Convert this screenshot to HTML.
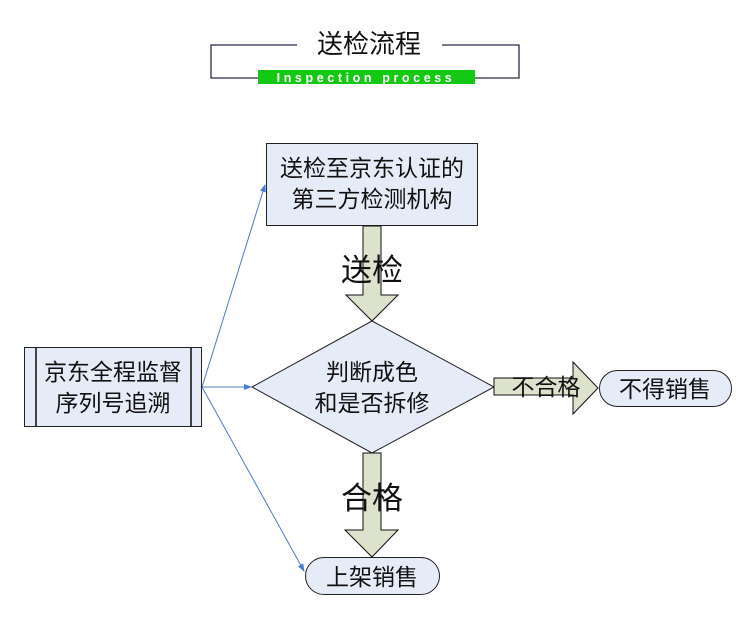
<!DOCTYPE html>
<html><head><meta charset="utf-8"><style>
html,body{margin:0;padding:0;background:#fff;}
svg{display:block;}
text{font-family:"Liberation Sans","Noto Sans CJK SC","WenQuanYi Zen Hei",sans-serif;}
</style></head><body>
<svg width="750" height="623" viewBox="0 0 750 623" xmlns="http://www.w3.org/2000/svg">
<defs>
<marker id="ah" markerWidth="8" markerHeight="8" refX="7" refY="4" orient="auto" markerUnits="userSpaceOnUse">
<path d="M0,1 L8,4 L0,7 z" fill="#4a7bc8"/></marker>
</defs>
<path d="M297,45 H211 V78 H258" fill="none" stroke="#2a2a4a" stroke-width="1.3"/>
<path d="M442,45 H519 V78 H475" fill="none" stroke="#2a2a4a" stroke-width="1.3"/>
<text x="369" y="53" font-size="26" text-anchor="middle" fill="#111">送检流程</text>
<rect x="258" y="70" width="217" height="14" fill="#14c814"/>
<text x="366" y="82" font-size="12.5" font-weight="bold" text-anchor="middle" fill="#fff" letter-spacing="3.6">Inspection process</text>

<g stroke="#4a7bc8" stroke-width="1" fill="none">
<line x1="202" y1="387" x2="265" y2="185" marker-end="url(#ah)"/>
<line x1="202" y1="387" x2="251" y2="387" marker-end="url(#ah)"/>
<line x1="202" y1="387" x2="304" y2="571" marker-end="url(#ah)"/>
</g>

<rect x="266.5" y="143.5" width="211" height="82" fill="#e6ecf7" stroke="#222" stroke-width="1"/>
<text x="372" y="176" font-size="23" text-anchor="middle" fill="#111">送检至京东认证的</text>
<text x="372" y="207" font-size="23" text-anchor="middle" fill="#111">第三方检测机构</text>

<path d="M363,226 H381 V295 H398 L372,321 L346,295 H363 Z" fill="#dde2cc" stroke="#111" stroke-width="1"/>
<text x="372" y="281" font-size="31" text-anchor="middle" fill="#111">送检</text>

<path d="M372,321 L494,387 L372,453 L252,387 Z" fill="#e6ecf7" stroke="#222" stroke-width="1"/>
<text x="372" y="380" font-size="23" text-anchor="middle" fill="#111">判断成色</text>
<text x="372" y="411" font-size="23" text-anchor="middle" fill="#111">和是否拆修</text>

<rect x="24.5" y="347.5" width="177" height="79" fill="#e6ecf7" stroke="#222" stroke-width="1"/>
<line x1="36" y1="348" x2="36" y2="426" stroke="#444" stroke-width="2"/>
<line x1="191" y1="348" x2="191" y2="426" stroke="#444" stroke-width="2"/>
<text x="113" y="380" font-size="23" text-anchor="middle" fill="#111">京东全程监督</text>
<text x="113" y="411" font-size="23" text-anchor="middle" fill="#111">序列号追溯</text>

<path d="M363,453 H381 V530 H398 L372,557 L345,530 H363 Z" fill="#dde2cc" stroke="#111" stroke-width="1"/>
<text x="372" y="509" font-size="31" text-anchor="middle" fill="#111">合格</text>

<rect x="305.5" y="557.5" width="134" height="37" rx="18.5" fill="#e6ecf7" stroke="#222" stroke-width="1"/>
<text x="372" y="585" font-size="23" text-anchor="middle" fill="#111">上架销售</text>

<path d="M494,378 H573 V362 L598,388 L573,414 V395 H494 Z" fill="#dde2cc" stroke="#111" stroke-width="1"/>
<text x="546" y="395" font-size="23" text-anchor="middle" fill="#111">不合格</text>

<rect x="599.5" y="370.5" width="132" height="36" rx="18" fill="#e6ecf7" stroke="#222" stroke-width="1"/>
<text x="665" y="397" font-size="23" text-anchor="middle" fill="#111">不得销售</text>
</svg>
</body></html>
